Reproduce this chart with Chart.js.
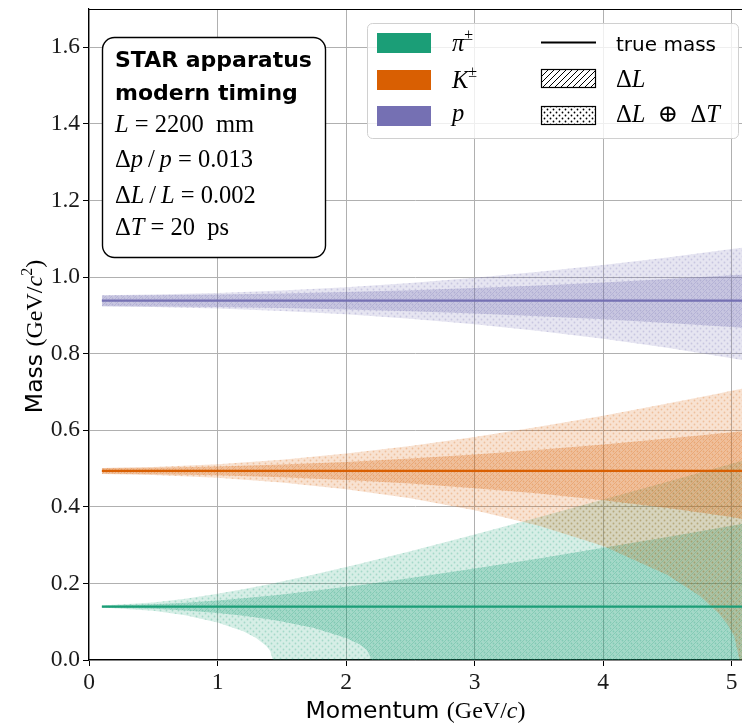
<!DOCTYPE html>
<html>
<head>
<meta charset="utf-8">
<script src="https://cdn.jsdelivr.net/npm/chart.js@4.4.1/dist/chart.umd.min.js"></script>
<style>
  html, body { margin: 0; padding: 0; background: #fff; }
  #wrap { width: 742px; height: 725px; }
</style>
</head>
<body>
<div id="wrap"><canvas id="mychart" width="742" height="725"></canvas></div>
<script>
// true masses (GeV/c^2)
const pionMass = 0.1396;
const kaonMass = 0.4937;
const protonMass = 0.9383;
const massLineP = [0.1, 5.1];

// pion bands
const pionP = [0.1, 0.5, 0.75, 1.0, 1.2, 1.3, 1.38, 1.41, 1.43, 1.5, 1.75, 2.0, 2.1, 2.16, 2.2, 2.5, 3.0, 3.5, 4.0, 4.5, 5.0, 5.1];
const pionOuterHi = [0.1422, 0.1502, 0.1600, 0.1727, 0.1847, 0.1911, 0.1965, 0.1985, 0.1999, 0.2048, 0.2233, 0.2428, 0.2508, 0.2557, 0.2590, 0.2842, 0.3278, 0.3728, 0.4188, 0.4654, 0.5125, 0.5220];
const pionOuterLo = [0.1370, 0.1287, 0.1170, 0.0982, 0.0748, 0.0574, 0.0363, 0.0234, 0, 0, 0, 0, 0, 0, 0, 0, 0, 0, 0, 0, 0, 0];
const pionInnerHi = [0.1419, 0.1453, 0.1496, 0.1555, 0.1612, 0.1644, 0.1670, 0.1680, 0.1687, 0.1712, 0.1807, 0.1911, 0.1954, 0.1981, 0.1999, 0.2139, 0.2388, 0.2653, 0.2928, 0.3212, 0.3503, 0.3562];
const pionInnerLo = [0.1374, 0.1339, 0.1293, 0.1225, 0.1153, 0.1110, 0.1072, 0.1057, 0.1046, 0.1007, 0.0835, 0.0577, 0.0416, 0.0270, 0, 0, 0, 0, 0, 0, 0, 0];

// kaon bands
const kaonP = [0.1, 0.5, 1.0, 1.5, 2.0, 2.5, 3.0, 3.5, 4.0, 4.5, 4.75, 4.9, 4.97, 5.02, 5.06, 5.1];
const kaonOuterHi = [0.5014, 0.5041, 0.5113, 0.5231, 0.5391, 0.5590, 0.5823, 0.6088, 0.6380, 0.6695, 0.6861, 0.6962, 0.7010, 0.7045, 0.7072, 0.7100];
const kaonOuterLo = [0.4860, 0.4834, 0.4761, 0.4638, 0.4461, 0.4222, 0.3911, 0.3508, 0.2975, 0.2222, 0.1675, 0.1213, 0.0914, 0.0613, 0, 0];
const kaonInnerHi = [0.5012, 0.5021, 0.5052, 0.5102, 0.5172, 0.5261, 0.5367, 0.5490, 0.5628, 0.5781, 0.5863, 0.5913, 0.5937, 0.5954, 0.5968, 0.5982];
const kaonInnerLo = [0.4863, 0.4853, 0.4823, 0.4772, 0.4700, 0.4606, 0.4488, 0.4345, 0.4173, 0.3970, 0.3855, 0.3781, 0.3745, 0.3719, 0.3698, 0.3676];

// proton bands
const protonP = [0.1, 0.5, 1.0, 1.5, 2.0, 2.5, 3.0, 3.5, 4.0, 4.5, 5.0, 5.1];
const protonOuterHi = [0.9524, 0.9542, 0.9583, 0.9647, 0.9735, 0.9846, 0.9981, 1.0138, 1.0316, 1.0514, 1.0731, 1.0776];
const protonOuterLo = [0.9237, 0.9219, 0.9179, 0.9115, 0.9026, 0.8910, 0.8767, 0.8594, 0.8391, 0.8154, 0.7881, 0.7822];
const protonInnerHi = [0.9521, 0.9526, 0.9542, 0.9569, 0.9607, 0.9655, 0.9713, 0.9781, 0.9860, 0.9948, 1.0045, 1.0066];
const protonInnerLo = [0.9239, 0.9234, 0.9218, 0.9192, 0.9155, 0.9107, 0.9048, 0.8977, 0.8896, 0.8802, 0.8696, 0.8674];

const SERIF = '"Liberation Serif", "DejaVu Serif", serif';
const SANS = '"DejaVu Sans", sans-serif';

const GREEN = '27,158,119';
const ORANGE = '217,95,2';
const PURPLE = '117,112,179';

const canvas = document.getElementById('mychart');
const ctx = canvas.getContext('2d');

// hatch (ΔL) and dots (ΔL ⊕ ΔT) fills
function hatchFill(rgb, aFill, aLine) {
  const c = document.createElement('canvas');
  c.width = 6; c.height = 6;
  const g = c.getContext('2d');
  if (rgb) { g.fillStyle = 'rgba(' + rgb + ',' + aFill + ')'; g.fillRect(0, 0, 6, 6); }
  g.strokeStyle = rgb ? 'rgba(' + rgb + ',' + aLine + ')' : '#000';
  g.lineWidth = rgb ? 0.9 : 1;
  g.beginPath();
  g.moveTo(-2, 8); g.lineTo(8, -2);
  g.moveTo(-5, 5); g.lineTo(5, -5);
  g.moveTo(1, 11); g.lineTo(11, 1);
  g.stroke();
  return ctx.createPattern(c, 'repeat');
}
function dotFill(rgb, aFill, aDot) {
  const c = document.createElement('canvas');
  c.width = 6; c.height = 6;
  const g = c.getContext('2d');
  if (rgb) { g.fillStyle = 'rgba(' + rgb + ',' + aFill + ')'; g.fillRect(0, 0, 6, 6); }
  g.fillStyle = rgb ? 'rgba(' + rgb + ',' + aDot + ')' : '#000';
  g.beginPath();
  g.arc(1.5, 1.5, 0.9, 0, Math.PI * 2);
  g.arc(4.5, 4.5, 0.9, 0, Math.PI * 2);
  g.fill();
  return ctx.createPattern(c, 'repeat');
}

function pts(xs, ys) {
  return xs.map((x, i) => ({ x: x, y: ys[i] }));
}
function band(xs, hi, lo, fillStyle) {
  return [
    { data: pts(xs, hi), fill: '+1', backgroundColor: fillStyle, borderColor: 'transparent', borderWidth: 0, pointRadius: 0, tension: 0 },
    { data: pts(xs, lo), fill: false, borderColor: 'transparent', borderWidth: 0, pointRadius: 0, tension: 0 }
  ];
}
function massLine(m, rgb) {
  return { data: pts(massLineP, [m, m]), fill: false, borderColor: 'rgb(' + rgb + ')', borderWidth: 2.2, pointRadius: 0 };
}

const datasets = [].concat(
  massLine(protonMass, PURPLE),
  massLine(kaonMass, ORANGE),
  massLine(pionMass, GREEN),
  band(protonP, protonInnerHi, protonInnerLo, hatchFill(PURPLE, 0.26, 0.28)),
  band(protonP, protonOuterHi, protonOuterLo, dotFill(PURPLE, 0.18, 0.26)),
  band(kaonP, kaonInnerHi, kaonInnerLo, hatchFill(ORANGE, 0.26, 0.28)),
  band(kaonP, kaonOuterHi, kaonOuterLo, dotFill(ORANGE, 0.18, 0.26)),
  band(pionP, pionInnerHi, pionInnerLo, hatchFill(GREEN, 0.26, 0.28)),
  band(pionP, pionOuterHi, pionOuterLo, dotFill(GREEN, 0.18, 0.26))
);

// draw a row of text pieces with different fonts; returns end x
function runs(g, x, y, parts, measureOnly) {
  for (const p of parts) {
    g.font = p[1];
    if (!measureOnly) g.fillText(p[0], x, y + (p[2] || 0));
    x += g.measureText(p[0]).width;
  }
  return x;
}
function runsCentered(g, cx, y, parts) {
  const w = runs(g, 0, 0, parts, true);
  runs(g, cx - w / 2, y, parts, false);
}
function roundRect(g, x, y, w, h, r) {
  g.beginPath();
  g.moveTo(x + r, y);
  g.arcTo(x + w, y, x + w, y + h, r);
  g.arcTo(x + w, y + h, x, y + h, r);
  g.arcTo(x, y + h, x, y, r);
  g.arcTo(x, y, x + w, y, r);
  g.closePath();
}

const sansT = '23.5px ' + SANS;
const serifT = '24px ' + SERIF;
const italT = 'italic 24px ' + SERIF;
const serif = '24.5px ' + SERIF;
const ital = 'italic 24.5px ' + SERIF;
const sup = '16px ' + SERIF;

const decorations = {
  id: 'decorations',
  afterDraw(chart) {
    const g = chart.ctx;
    const a = chart.chartArea;
    g.save();
    g.fillStyle = '#000';
    g.textBaseline = 'alphabetic';

    // top spine
    g.strokeStyle = '#000';
    g.lineWidth = 1.2;
    g.beginPath();
    g.moveTo(a.left, a.top + 0.5);
    g.lineTo(a.right, a.top + 0.5);
    g.stroke();

    // axis titles
    runsCentered(g, (a.left + a.right) / 2, 718, [
      ['Momentum ', sansT], ['(GeV/', serifT], ['c', italT], [')', serifT]
    ]);
    g.save();
    g.translate(42, (a.top + a.bottom) / 2 + 2);
    g.rotate(-Math.PI / 2);
    runsCentered(g, 0, 0, [
      ['Mass ', sansT], ['(GeV/', serifT], ['c', italT], ['2', sup, -10], [')', serifT]
    ]);
    g.restore();

    // info box
    roundRect(g, 102.5, 37.5, 223, 220, 12);
    g.fillStyle = '#fff';
    g.fill();
    g.strokeStyle = '#000';
    g.lineWidth = 1.4;
    g.stroke();
    g.fillStyle = '#000';
    const bold = 'bold 22px ' + SANS;
    runs(g, 115, 67, [['STAR apparatus', bold]]);
    runs(g, 115, 100, [['modern timing', bold]]);
    runs(g, 115, 132, [['L', ital], [' = 2200  mm', serif]]);
    runs(g, 115, 167, [['Δ', serif], ['p', ital], ['\u2009/\u2009', serif], ['p', ital], [' = 0.013', serif]]);
    runs(g, 115, 203, [['Δ', serif], ['L', ital], ['\u2009/\u2009', serif], ['L', ital], [' = 0.002', serif]]);
    runs(g, 115, 235, [['Δ', serif], ['T', ital], [' = 20  ps', serif]]);

    // legend
    roundRect(g, 367.5, 23.5, 371, 115, 5);
    g.fillStyle = 'rgba(255,255,255,0.8)';
    g.fill();
    g.strokeStyle = '#d0d0d0';
    g.lineWidth = 1;
    g.stroke();

    const patches = [GREEN, ORANGE, PURPLE];
    const rowsY = [33, 70, 106];
    patches.forEach((c, i) => {
      g.fillStyle = 'rgb(' + c + ')';
      g.fillRect(377, rowsY[i], 54, 20);
    });
    g.fillStyle = '#000';
    runs(g, 452, 51, [['π', ital], ['±', sup, -11]]);
    runs(g, 452, 88, [['K', ital], ['±', sup, -11]]);
    runs(g, 452, 121, [['p', ital]]);

    g.strokeStyle = '#000';
    g.lineWidth = 2;
    g.beginPath();
    g.moveTo(541, 42.5);
    g.lineTo(596, 42.5);
    g.stroke();

    g.lineWidth = 1.2;
    g.fillStyle = '#fff';
    g.fillRect(541, 69, 55, 19);
    g.fillStyle = hatchFill(null);
    g.fillRect(541, 69, 55, 19);
    g.strokeRect(541.5, 69.5, 54, 18);
    g.fillStyle = '#fff';
    g.fillRect(541, 106, 55, 19);
    g.fillStyle = dotFill(null);
    g.fillRect(541, 106, 55, 19);
    g.strokeRect(541.5, 106.5, 54, 18);

    g.fillStyle = '#000';
    runs(g, 616, 51, [['true mass', '20px ' + SANS]]);
    runs(g, 616, 87, [['Δ', serif], ['L', ital]]);
    runs(g, 616, 122, [['Δ', serif], ['L', ital], ['  ⊕  ', serif], ['Δ', serif], ['T', ital]]);

    g.restore();
  }
};

const myChart = new Chart(ctx, {
  type: 'line',
  data: { datasets: datasets },
  options: {
    responsive: false,
    animation: false,
    devicePixelRatio: 1,
    layout: { padding: { top: 9, right: 0, left: 0, bottom: 0 } },
    plugins: {
      legend: { display: false },
      tooltip: { enabled: false },
      filler: { drawTime: 'beforeDatasetsDraw' }
    },
    scales: {
      x: {
        type: 'linear',
        min: 0,
        max: 5.08,
        afterFit: (s) => { s.height = 65; s.paddingLeft = 0; s.paddingRight = 0; },
        ticks: {
          stepSize: 1,
          includeBounds: false,
          maxRotation: 0,
          padding: 3,
          color: '#1a1a1a',
          font: { family: SERIF, size: 23.5 },
          callback: (v) => v.toFixed(0)
        },
        grid: { color: '#b0b0b0', lineWidth: 1, tickLength: 6, tickColor: '#000' },
        border: { color: '#000', width: 1.2 }
      },
      y: {
        type: 'linear',
        min: 0,
        max: 1.7,
        afterFit: (s) => { s.width = 89; s.paddingTop = 0; s.paddingBottom = 0; },
        ticks: {
          stepSize: 0.2,
          includeBounds: false,
          padding: 3,
          color: '#1a1a1a',
          font: { family: SERIF, size: 23.5 },
          callback: (v) => v.toFixed(1)
        },
        grid: { color: '#b0b0b0', lineWidth: 1, tickLength: 6, tickColor: '#000' },
        border: { color: '#000', width: 1.2 }
      }
    }
  },
  plugins: [decorations]
});
</script>
</body>
</html>
